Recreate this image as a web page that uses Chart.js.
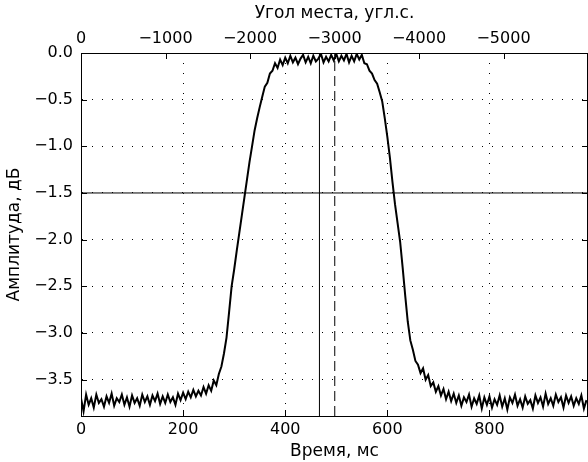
<!DOCTYPE html>
<html>
<head>
<meta charset="utf-8">
<script src="https://cdn.jsdelivr.net/npm/chart.js@4.4.1/dist/chart.umd.min.js"></script>
<style>
  html, body { margin: 0; padding: 0; background: #fff; }
  #wrap { width: 588px; height: 462px; }
</style>
</head>
<body>
<div id="wrap"><canvas id="chart" width="588" height="462"></canvas></div>
<script>
// sampled amplitude, one value every 5 ms starting at 0 ms
const sampleStepMs = 5;
const amplitudeDb = [
  -3.70, -3.84, -3.66, -3.77, -3.70, -3.80, -3.66, -3.75, -3.71, -3.79,
  -3.68, -3.75, -3.65, -3.78, -3.70, -3.74, -3.66, -3.77, -3.69, -3.79,
  -3.67, -3.75, -3.70, -3.78, -3.66, -3.74, -3.68, -3.77, -3.67, -3.73,
  -3.65, -3.76, -3.68, -3.75, -3.66, -3.74, -3.69, -3.77, -3.65, -3.72,
  -3.64, -3.71, -3.63, -3.69, -3.61, -3.68, -3.62, -3.67, -3.58, -3.65,
  -3.56, -3.62, -3.51, -3.56, -3.44, -3.36, -3.22, -3.05, -2.78, -2.50,
  -2.32, -2.12, -1.93, -1.74, -1.55, -1.36, -1.17, -1.00, -0.83, -0.70,
  -0.58, -0.47, -0.36, -0.32, -0.22, -0.19, -0.11, -0.16, -0.07, -0.13,
  -0.05, -0.11, -0.03, -0.10, -0.05, -0.12, -0.06, -0.02, -0.10, -0.04,
  -0.11, -0.03, -0.09, -0.06, -0.01, -0.10, -0.04, -0.09, -0.02, -0.08,
  -0.01, -0.09, -0.03, -0.08, -0.01, -0.10, -0.03, -0.09, -0.01, -0.07,
  -0.02, -0.11, -0.12, -0.19, -0.22, -0.29, -0.33, -0.42, -0.52, -0.70,
  -0.90, -1.12, -1.38, -1.62, -1.82, -2.02, -2.30, -2.60, -2.88, -3.08,
  -3.18, -3.30, -3.34, -3.43, -3.38, -3.50, -3.45, -3.57, -3.53, -3.63,
  -3.57, -3.67, -3.60, -3.71, -3.63, -3.73, -3.65, -3.75, -3.67, -3.78,
  -3.69, -3.74, -3.66, -3.79, -3.70, -3.76, -3.67, -3.81, -3.69, -3.77,
  -3.68, -3.80, -3.71, -3.77, -3.67, -3.79, -3.70, -3.82, -3.69, -3.75,
  -3.66, -3.78, -3.71, -3.80, -3.68, -3.76, -3.72, -3.81, -3.67, -3.75,
  -3.69, -3.79, -3.65, -3.76, -3.70, -3.78, -3.66, -3.74, -3.69, -3.80,
  -3.67, -3.75, -3.68, -3.78, -3.70, -3.76, -3.67, -3.81, -3.72
];

const levelDb = -1.5;          // horizontal reference level
const markerSolidMs = 467;     // solid vertical marker
const markerDashedMs = 497;    // dashed vertical marker

const timeRange = [0, 993];
const ampRange = [-3.89, 0];
const angleRange = [-6000, 0];  // top axis, arcsec
const timeTicks = [0, 200, 400, 600, 800];
const ampTicks = [0, -0.5, -1.0, -1.5, -2.0, -2.5, -3.0, -3.5];
const angleTicks = [0, -1000, -2000, -3000, -4000, -5000];

const signal = amplitudeDb.map((v, i) => ({ x: i * sampleStepMs, y: v }));

const TICK_FONT = { family: "'DejaVu Sans', sans-serif", size: 16 };
const TITLE_FONT = { family: "'DejaVu Sans', sans-serif", size: 17 };
const minus = (s) => String(s).replace('-', '\u2212');
const fixedTicks = (values) => (s) => { s.ticks = values.map((value) => ({ value })); };

// inward tick marks on all four sides plus the right frame line
const frameTicks = {
  id: 'frameTicks',
  afterDatasetsDraw(chart) {
    const { ctx, chartArea: a, scales } = chart;
    const len = 6;
    ctx.save();
    ctx.strokeStyle = '#000';
    ctx.lineWidth = 1;
    ctx.beginPath();
    scales.x.ticks.forEach((t) => {
      const px = Math.round(scales.x.getPixelForValue(t.value)) + 0.5;
      ctx.moveTo(px, a.bottom); ctx.lineTo(px, a.bottom - len);
    });
    scales.x2.ticks.forEach((t) => {
      const px = Math.round(scales.x2.getPixelForValue(t.value)) + 0.5;
      ctx.moveTo(px, a.top); ctx.lineTo(px, a.top + len);
    });
    scales.y.ticks.forEach((t) => {
      const py = Math.round(scales.y.getPixelForValue(t.value)) + 0.5;
      ctx.moveTo(a.left, py); ctx.lineTo(a.left + len, py);
      ctx.moveTo(a.right, py); ctx.lineTo(a.right - len, py);
    });
    ctx.moveTo(a.right - 0.5, a.top); ctx.lineTo(a.right - 0.5, a.bottom);
    ctx.stroke();
    ctx.restore();
  }
};

new Chart(document.getElementById('chart'), {
  type: 'line',
  data: {
    datasets: [
      {
        data: signal,
        borderColor: '#000',
        borderWidth: 2,
        pointRadius: 0,
        tension: 0,
        xAxisID: 'x',
        yAxisID: 'y',
      },
      {
        data: [{ x: timeRange[0], y: levelDb }, { x: timeRange[1], y: levelDb }],
        borderColor: '#000',
        borderWidth: 1,
        pointRadius: 0,
        xAxisID: 'x',
        yAxisID: 'y',
      },
      {
        data: [{ x: markerSolidMs, y: ampRange[0] }, { x: markerSolidMs, y: ampRange[1] }],
        borderColor: '#000',
        borderWidth: 1,
        pointRadius: 0,
        xAxisID: 'x',
        yAxisID: 'y',
      },
      {
        data: [{ x: markerDashedMs, y: ampRange[0] }, { x: markerDashedMs, y: ampRange[1] }],
        borderColor: '#000',
        borderWidth: 1,
        borderDash: [10, 5],
        pointRadius: 0,
        xAxisID: 'x',
        yAxisID: 'y',
      },
    ],
  },
  options: {
    responsive: false,
    devicePixelRatio: 1,
    animation: false,
    layout: { padding: 0 },
    plugins: {
      legend: { display: false },
      tooltip: { enabled: false },
    },
    scales: {
      x: {
        type: 'linear',
        position: 'bottom',
        min: timeRange[0],
        max: timeRange[1],
        afterBuildTicks: fixedTicks(timeTicks),
        afterFit: (s) => { s.height = 46; },
        ticks: {
          maxRotation: 0,
          autoSkip: false,
          padding: 4,
          color: '#000',
          font: TICK_FONT,
          callback: (v) => minus(v),
        },
        grid: { display: true, color: '#000', lineWidth: 1, drawTicks: false },
        border: { display: true, color: '#000', width: 1, dash: [1, 9] },
        title: { display: true, text: 'Время, мс', color: '#000', font: TITLE_FONT, padding: { top: 0, bottom: 0 } },
      },
      x2: {
        type: 'linear',
        position: 'top',
        min: angleRange[0],
        max: angleRange[1],
        reverse: true,
        afterBuildTicks: fixedTicks(angleTicks),
        afterFit: (s) => { s.height = 53; },
        ticks: {
          maxRotation: 0,
          autoSkip: false,
          padding: 5,
          color: '#000',
          font: TICK_FONT,
          callback: (v) => minus(v),
        },
        grid: { display: false, drawTicks: false },
        border: { display: true, color: '#000', width: 1 },
        title: { display: true, text: 'Угол места, угл.с.', color: '#000', font: TITLE_FONT, padding: { top: 3, bottom: 0 } },
      },
      y: {
        type: 'linear',
        position: 'left',
        min: ampRange[0],
        max: ampRange[1],
        afterBuildTicks: fixedTicks(ampTicks),
        afterFit: (s) => { s.width = 81; },
        ticks: {
          autoSkip: false,
          padding: 8,
          color: '#000',
          font: TICK_FONT,
          callback: (v) => minus(Number(v).toFixed(1)),
        },
        grid: { display: true, color: '#000', lineWidth: 1, drawTicks: false },
        border: { display: true, color: '#000', width: 1, dash: [1, 9] },
        title: { display: true, text: 'Амплитуда, дБ', color: '#000', font: TITLE_FONT, padding: { top: 4, bottom: 0 } },
      },
    },
  },
  plugins: [frameTicks],
});
</script>
</body>
</html>
